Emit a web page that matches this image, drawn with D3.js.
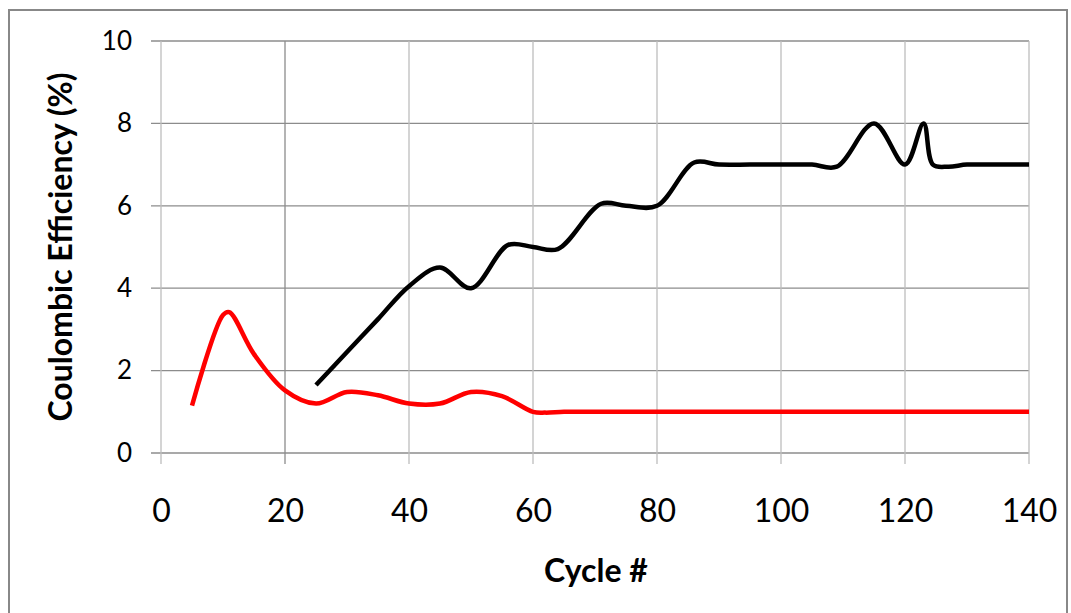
<!DOCTYPE html>
<html>
<head>
<meta charset="utf-8">
<script src="https://cdn.jsdelivr.net/npm/d3@7"></script>
<style>
  body { margin: 0; background: #fff; }
  text { font-family: Lato, "Open Sans", sans-serif; }
</style>
</head>
<body>
<script>
// data
var xTicks = [0, 20, 40, 60, 80, 100, 120, 140];
var yTicks = [0, 2, 4, 6, 8, 10];

var redCycles = [5, 10, 11, 15, 20, 25, 30, 35, 40, 45, 50, 55, 60, 62, 65, 70, 80, 90, 100, 110, 120, 130, 140];
var redValues = [1.15, 3.35, 3.42, 2.4, 1.52, 1.2, 1.48, 1.4, 1.2, 1.2, 1.48, 1.38, 1.0, 0.98, 1.0, 1.0, 1.0, 1.0, 1.0, 1.0, 1.0, 1.0, 1.0];

var blackCycles = [25, 30, 35, 40, 45, 50, 56, 60, 64, 71, 75, 80, 86, 90, 95, 100, 105, 109, 115, 120, 123, 124.5, 127, 130, 135, 140];
var blackValues = [1.65, 2.45, 3.25, 4.05, 4.5, 4.0, 5.05, 5.0, 4.95, 6.05, 6.0, 6.0, 7.05, 7.0, 7.0, 7.0, 7.0, 6.95, 8.0, 7.0, 8.0, 7.0, 6.95, 7.0, 7.0, 7.0];

var width = 1071, height = 613;

var svg = d3.select("body").append("svg")
  .attr("width", width)
  .attr("height", height);

// outer chart border
svg.append("rect")
  .attr("x", 9).attr("y", 10)
  .attr("width", 1058).attr("height", 610)
  .attr("fill", "none")
  .attr("stroke", "#888")
  .attr("stroke-width", 2);

var x = d3.scaleLinear().domain([0, 140]).range([161, 1029]);
var y = d3.scaleLinear().domain([0, 10]).range([453, 41]);

/* grid */
svg.append("g").selectAll("line")
  .data(yTicks)
  .enter().append("line")
    .attr("x1", 151).attr("x2", x(140))
    .attr("y1", function(d) { return y(d); })
    .attr("y2", function(d) { return y(d); })
    .attr("stroke", "#8c8c8c")
    .attr("stroke-width", 1.3);

svg.append("g").selectAll("line")
  .data(xTicks)
  .enter().append("line")
    .attr("x1", function(d) { return x(d); })
    .attr("x2", function(d) { return x(d); })
    .attr("y1", y(10)).attr("y2", 464)
    .attr("stroke", function(d) { return d == 20 ? "#8c8c8c" : "#bdbdbd"; })
    .attr("stroke-width", 1.3);

/* axes labels */
var yAxis = d3.axisLeft(y).tickValues(yTicks).tickSize(0).tickPadding(0);
var gy = svg.append("g").attr("transform", "translate(132,0)").call(yAxis);
gy.select(".domain").remove();
gy.selectAll("text")
  .attr("font-size", 26)
  .attr("fill", "#000")
  .style("font-family", "Lato, sans-serif");

var xAxis = d3.axisBottom(x).tickValues(xTicks).tickSize(0).tickPadding(0);
var gx = svg.append("g").attr("transform", "translate(0,499)").call(xAxis);
gx.select(".domain").remove();
gx.selectAll("text")
  .attr("font-size", 32)
  .attr("fill", "#000")
  .style("font-family", "Lato, sans-serif");

svg.append("text")
  .attr("x", 596).attr("y", 582)
  .attr("text-anchor", "middle")
  .attr("font-size", 32)
  .attr("font-weight", "bold")
  .text("Cycle #");

svg.append("text")
  .attr("transform", "translate(72,247) rotate(-90)")
  .attr("text-anchor", "middle")
  .attr("font-size", 32)
  .attr("font-weight", "bold")
  .text("Coulombic Efficiency (%)");

/* series */
var line = d3.line()
  .x(function(d) { return x(d[0]); })
  .y(function(d) { return y(d[1]); })
  .curve(d3.curveCatmullRom.alpha(0.5));

var red = d3.zip(redCycles, redValues);
var black = d3.zip(blackCycles, blackValues);

svg.append("path")
  .datum(red)
  .attr("d", line)
  .attr("fill", "none")
  .attr("stroke", "#ff0000")
  .attr("stroke-width", 4.5);

svg.append("path")
  .datum(black)
  .attr("d", line)
  .attr("fill", "none")
  .attr("stroke", "#000")
  .attr("stroke-width", 4.5);
</script>
</body>
</html>
